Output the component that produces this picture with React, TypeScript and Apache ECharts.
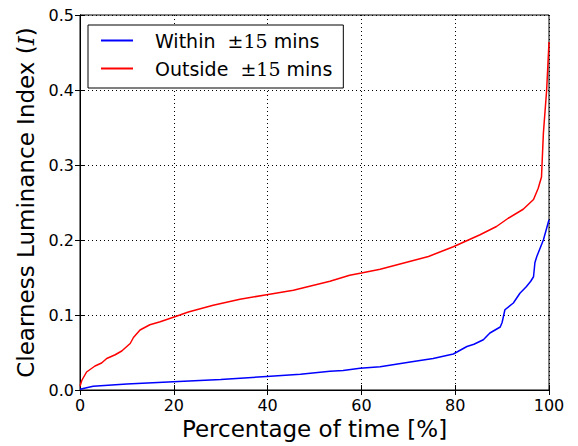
import React, { useEffect, useRef } from "react";
import * as echarts from "echarts";

const withinX = [0, 2.8, 10, 19.9, 30, 39.8, 47, 53.3, 56.1, 59.7, 64, 71.1, 75.3, 79.6, 82.5, 84, 86, 87.4, 89.6, 90.0, 90.6, 92.4, 93.8, 95.2, 96.1, 96.7, 97.0, 97.4, 98.8, 99.6, 100];
const withinY = [0.001, 0.005, 0.008, 0.011, 0.014, 0.018, 0.021, 0.025, 0.026, 0.029, 0.031, 0.038, 0.042, 0.048, 0.058, 0.061, 0.067, 0.076, 0.084, 0.09, 0.107, 0.116, 0.129, 0.138, 0.145, 0.151, 0.17, 0.178, 0.2, 0.218, 0.227];

const outsideX = [0, 0.4, 1.4, 3.2, 4.6, 5.7, 7.5, 8.9, 10.7, 11.4, 12.8, 14.9, 17.1, 19.9, 21.3, 23.1, 28.4, 34.1, 39.8, 45.5, 53.3, 57.5, 60, 64, 74.3, 79.6, 85.3, 88.8, 91.3, 94.5, 96.7, 97.7, 98.4, 98.8, 99.5, 100];
const outsideY = [0.005, 0.013, 0.024, 0.032, 0.036, 0.042, 0.047, 0.052, 0.062, 0.07, 0.08, 0.087, 0.091, 0.097, 0.1, 0.104, 0.113, 0.121, 0.127, 0.133, 0.145, 0.153, 0.156, 0.161, 0.178, 0.191, 0.207, 0.218, 0.229, 0.241, 0.254, 0.269, 0.284, 0.342, 0.4, 0.464];

const seriesNames = ["Within ±15 mins", "Outside ±15 mins"];
const xTicks = { min: 0, max: 100, interval: 20 };
const yTicks = { min: 0, max: 0.5, interval: 0.1 };

const SANS = "DejaVu Sans";
const SERIF = "DejaVu Serif";

export default function App() {
  const ref = useRef<HTMLDivElement>(null);
  useEffect(() => {
    if (!ref.current) return;
    const chart = echarts.init(ref.current, null, { renderer: "svg" });
    const gridLine = { show: true, lineStyle: { color: "#000", type: [1, 3] as any, width: 1 } };
    const axisLine = { show: true, lineStyle: { color: "#000", width: 1 } };
    const tick = { show: true, inside: true, length: 5, lineStyle: { color: "#000" } };
    chart.setOption({
      animation: false,
      backgroundColor: "#fff",
      grid: { left: 80, top: 15, right: 29, bottom: 56, show: true, borderColor: "#000", borderWidth: 1 },
      legend: {
        orient: "vertical",
        left: 88,
        top: 25,
        padding: [6, 11, 10, 13],
        borderColor: "#000",
        borderWidth: 1,
        borderRadius: 0,
        backgroundColor: "#fff",
        itemWidth: 32,
        itemHeight: 2,
        itemGap: 9,
        icon: "rect",
        data: seriesNames,
        formatter: (name: string) => {
          const parts = name.split(" ±15 ");
          return `{s|${parts[0]}  }{m|±15}{s| ${parts[1]}}`;
        },
        textStyle: {
          padding: [0, 0, 0, 17],
          rich: {
            s: { fontFamily: SANS, fontSize: 19, color: "#000", lineHeight: 20 },
            m: { fontFamily: SERIF, fontSize: 19, color: "#000", lineHeight: 20 },
          },
        },
      },
      xAxis: [
        {
          type: "value",
          ...xTicks,
          position: "bottom",
          name: "Percentage of time [%]",
          nameLocation: "middle",
          nameGap: 26,
          nameTextStyle: { fontFamily: SANS, fontSize: 23, color: "#000" },
          axisLine,
          axisTick: tick,
          axisLabel: { fontFamily: SANS, fontSize: 16, color: "#000", margin: 7 },
          splitLine: gridLine,
        },
        {
          type: "value",
          ...xTicks,
          position: "top",
          axisLine,
          axisTick: tick,
          axisLabel: { show: false },
          splitLine: { show: false },
        },
      ],
      yAxis: [
        {
          type: "value",
          ...yTicks,
          position: "left",
          name: "{s|Clearness Luminance Index (}{i|I}{s|)}",
          nameLocation: "middle",
          nameGap: 42,
          nameTextStyle: {
            rich: {
              s: { fontFamily: SANS, fontSize: 23, color: "#000" },
              i: { fontFamily: SERIF, fontStyle: "italic", fontSize: 23, color: "#000" },
            },
          },
          axisLine,
          axisTick: tick,
          axisLabel: { fontFamily: SANS, fontSize: 16, color: "#000", margin: 6, formatter: (v: number) => v.toFixed(1) },
          splitLine: gridLine,
        },
        {
          type: "value",
          ...yTicks,
          position: "right",
          axisLine,
          axisTick: tick,
          axisLabel: { show: false },
          splitLine: { show: false },
        },
      ],
      series: [
        {
          name: seriesNames[0],
          type: "line",
          data: withinX.map((x, i) => [x, withinY[i]]),
          showSymbol: false,
          symbol: "none",
          lineStyle: { color: "#0000ff", width: 1.5 },
          itemStyle: { color: "#0000ff" },
        },
        {
          name: seriesNames[1],
          type: "line",
          data: outsideX.map((x, i) => [x, outsideY[i]]),
          showSymbol: false,
          symbol: "none",
          lineStyle: { color: "#ff0000", width: 1.5 },
          itemStyle: { color: "#ff0000" },
        },
      ],
    });
    return () => chart.dispose();
  }, []);
  return <div ref={ref} style={{ width: 578, height: 446, position: "absolute", left: 0, top: 0 }} />;
}
